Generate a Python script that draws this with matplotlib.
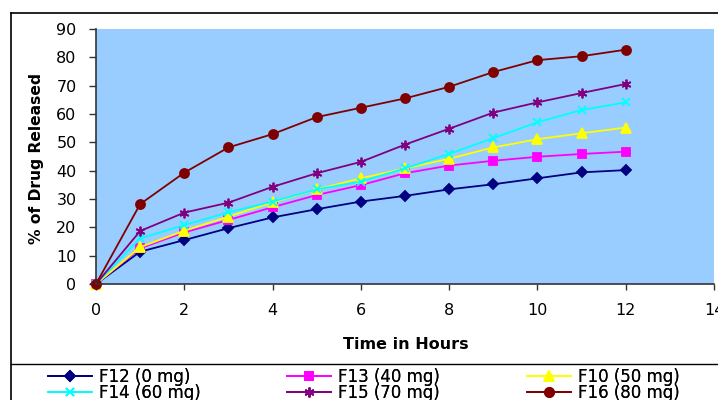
import matplotlib
matplotlib.use("Agg")
import matplotlib.pyplot as plt
from matplotlib.lines import Line2D

plt.rcParams['font.family'] = ['DejaVu Sans']

hours = [0, 1, 2, 3, 4, 5, 6, 7, 8, 9, 10, 11, 12]
f12 = [0, 11.4, 15.5, 19.7, 23.5, 26.4, 29.1, 31.1, 33.4, 35.2, 37.3, 39.4, 40.2]
f13 = [0, 12.6, 18.2, 22.6, 27.1, 31.4, 34.9, 39.1, 41.8, 43.5, 44.9, 45.9, 46.7]
f10 = [0, 13.0, 18.8, 23.8, 28.8, 33.4, 37.3, 40.8, 44.2, 48.2, 51.1, 53.2, 55.2]
f14 = [0, 16.1, 20.8, 25.3, 29.1, 33.4, 36.1, 40.8, 45.9, 51.5, 57.1, 61.4, 64.1]
f15 = [0, 18.7, 25.2, 28.7, 34.3, 39.1, 43.1, 49.2, 54.8, 60.5, 64.1, 67.4, 70.6]
f16 = [0, 28.2, 39.3, 48.2, 52.9, 58.9, 62.2, 65.5, 69.6, 74.8, 79.0, 80.4, 82.7]

labels = ["F12 (0 mg)", "F13 (40 mg)", "F10 (50 mg)",
          "F14 (60 mg)", "F15 (70 mg)", "F16 (80 mg)"]
xticks = [0, 2, 4, 6, 8, 10, 12, 14]
yticks = [0, 10, 20, 30, 40, 50, 60, 70, 80, 90]

W, H = 718, 400
fig = plt.figure(figsize=(W / 100, H / 100), dpi=100)
ax = fig.add_axes([96 / W, 1 - 284 / H, (714 - 96) / W, (284 - 29) / H])
ax.set_facecolor('#99CCFF')

styles = [
    (f12, '#000080', 'D', 5.5),
    (f13, '#FF00FF', 's', 6.0),
    (f10, '#FFFF00', '^', 7.5),
    (f14, '#00FFFF', 'x', 6.0),
    (f15, '#800080', (6, 2, 0), 7.0),
    (f16, '#800000', 'o', 6.5),
]
handles = []
for (vals, col, mk, ms), lab in zip(styles, labels):
    h, = ax.plot(hours, vals, color=col, marker=mk, markersize=ms, lw=1.3,
                 markeredgecolor=col, markerfacecolor=col, mew=1.3, label=lab,
                 clip_on=False)
    handles.append(h)

ax.set_xlim(0, 14)
ax.set_ylim(0, 90)
ax.set_xticks(xticks)
ax.set_yticks(yticks)
for s in ['top', 'right']:
    ax.spines[s].set_visible(False)
for s in ['left', 'bottom']:
    ax.spines[s].set_color('#333333')
    ax.spines[s].set_linewidth(1.2)
ax.tick_params(axis='y', direction='out', length=5, width=1.0, color='#333333',
               labelsize=11.5, pad=9)
ax.tick_params(axis='x', direction='out', length=4.5, width=1.0, color='#333333',
               labelsize=11.5, pad=9)

fig.text(37 / W, 1 - 158 / H, '% of Drug Released', fontsize=11.2, fontweight='bold',
         rotation=90, ha='center', va='center')
fig.text(406 / W, 1 - 344.5 / H, 'Time in Hours', fontsize=11.5, fontweight='bold',
         ha='center', va='center')

# frame lines
fig.add_artist(Line2D([11 / W, 1], [1 - 12.5 / H, 1 - 12.5 / H], color='black', lw=1.2))
fig.add_artist(Line2D([11 / W, 11 / W], [0, 1 - 12.5 / H], color='black', lw=1.2))
fig.add_artist(Line2D([11 / W, 1], [1 - 364 / H, 1 - 364 / H], color='black', lw=1.0))

# legend in three columns
cols_x = [48, 287, 527]
for i, cx in enumerate(cols_x):
    hs = [handles[i], handles[i + 3]]
    leg = fig.legend(hs, [h.get_label() for h in hs], loc='center left',
                     bbox_to_anchor=(cx / W, 1 - 385 / H), frameon=False,
                     fontsize=12, borderpad=0, borderaxespad=0,
                     handlelength=2.64, handletextpad=0.42, labelspacing=-0.15)
    fig.add_artist(leg)

fig.savefig('out.png', dpi=100)
